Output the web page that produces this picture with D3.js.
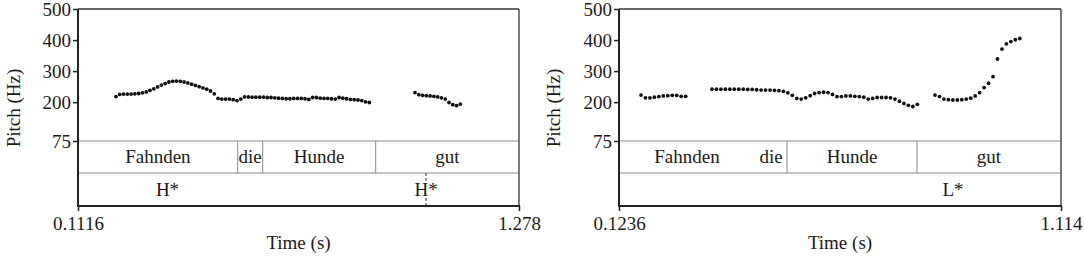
<!DOCTYPE html>
<html><head><meta charset="utf-8">
<script src="https://cdn.jsdelivr.net/npm/d3@7"></script>
<style>
body{margin:0;background:#fff}
svg{display:block}
</style></head><body>
<svg id="c" width="1084" height="258"></svg>
<script>
// ---------- shared ----------
const pitchTicks = [75, 200, 300, 400, 500];
const pitchDomain = [75, 500];
const frameStep = 0.01; // s between pitch frames

// ---------- left panel ----------
const timeDomainL = [0.1116, 1.278];
const timeTickLabelsL = ["0.1116", "1.278"];
const f0StartsL = [0.2121, 1.0029];
const f0SegL1 = [218,225,226,226,226,227,228,230,233,238,243,249,255,260,265,267,
  268,267,265,262,258,254,250,246,242,236,227,212,210,210,210,208,205,210,217,
  217,216,216,216,216,215,215,214,213,212,211,211,212,212,212,211,209,215,215,
  213,212,212,211,210,215,213,211,209,208,207,205,201,199,204].slice(0, 68);
const f0SegL2 = [231,224,222,221,220,219,217,214,210,199,192,189,194];
const wordsL = ["Fahnden", "die", "Hunde", "gut"];
const wordEdgesL = [0.1116, 0.5340, 0.6001, 0.8990, 1.278];
const hiddenEdgesL = [];
const tonesL = ["H*", "H*"];
const toneTimesL = [0.3483, 1.0321];
const toneMarksL = [false, true];

// ---------- right panel ----------
const timeDomainR = [0.1236, 1.114];
const timeTickLabelsR = ["0.1236", "1.114"];
const f0StartsR = [0.1729, 0.3320, 0.8317];
const f0SegR1 = [223,214,214,216,218,220,221,222,222,219,219];
const f0SegR2 = [242,242,242,242,242,242,242,242,241,241,240,239,239,239,238,237,
  235,230,222,212,210,214,221,228,231,232,231,225,218,218,220,220,219,218,216,
  210,212,215,215,215,214,210,203,196,190,186,193];
const f0SegR3 = [223,218,210,208,207,207,208,210,213,220,231,247,261,282,339,371,
  388,395,401,405];
const wordsR = ["Fahnden", "die", "Hunde", "gut"];
const wordEdgesR = [0.1236, 0.4284, 0.5001, 0.7914, 1.114];
const hiddenEdgesR = [0];
const tonesR = ["L*"];
const toneTimesR = [0.8721];
const toneMarksR = [false];

const FONT = '"Liberation Serif", "Times New Roman", serif';

const panels = [
  {x0: 78, x1: 519, time: timeDomainL, tickLabels: timeTickLabelsL,
   segs: [f0SegL1, f0SegL2], starts: f0StartsL,
   words: wordsL, edges: wordEdgesL, hidden: hiddenEdgesL,
   tones: tonesL, toneTimes: toneTimesL, toneMarks: toneMarksL, titleX: 13},
  {x0: 619, x1: 1061, time: timeDomainR, tickLabels: timeTickLabelsR,
   segs: [f0SegR1, f0SegR2, f0SegR3], starts: f0StartsR,
   words: wordsR, edges: wordEdgesR, hidden: hiddenEdgesR,
   tones: tonesR, toneTimes: toneTimesR, toneMarks: toneMarksR, titleX: 553}
];

const svg = d3.select("#c");
svg.append("rect").attr("width", 1084).attr("height", 258).attr("fill", "#fff");

const yTop = 9, yPitchBottom = 141, yTier1 = 173, yBottom = 206;
const y = d3.scaleLinear().domain(pitchDomain).range([yPitchBottom, yTop]);

function styleText(sel) {
  return sel.style("font-family", FONT).style("font-size", "19px").style("fill", "#1a1a1a");
}

panels.forEach(p => {
  const x = d3.scaleLinear().domain(p.time).range([p.x0, p.x1]);
  const g = svg.append("g");

  // tier separators
  [yPitchBottom, yTier1].forEach(yy => {
    g.append("line").attr("x1", p.x0).attr("x2", p.x1).attr("y1", yy).attr("y2", yy)
      .attr("stroke", "#8a8a8a").attr("stroke-width", 1);
  });
  // word boundaries
  p.edges.slice(1, -1).forEach((t, i) => {
    if (p.hidden.includes(i)) return;
    g.append("line").attr("x1", x(t)).attr("x2", x(t))
      .attr("y1", yPitchBottom).attr("y2", yTier1)
      .attr("stroke", "#8a8a8a").attr("stroke-width", 1);
  });
  // word labels
  p.words.forEach((w, i) => {
    styleText(g.append("text").attr("x", x((p.edges[i] + p.edges[i + 1]) / 2))
      .attr("y", 163).attr("text-anchor", "middle")).text(w);
  });
  // tones
  p.tones.forEach((tn, i) => {
    const xx = x(p.toneTimes[i]);
    if (p.toneMarks[i]) {
      g.append("line").attr("x1", xx).attr("x2", xx).attr("y1", yTier1).attr("y2", 182)
        .attr("stroke", "#333").attr("stroke-dasharray", "3,2");
      g.append("line").attr("x1", xx).attr("x2", xx).attr("y1", 198).attr("y2", yBottom)
        .attr("stroke", "#333").attr("stroke-dasharray", "3,2");
    }
    styleText(g.append("text").attr("x", xx).attr("y", 196).attr("text-anchor", "middle")).text(tn);
  });

  // frame: top and right
  g.append("line").attr("x1", p.x0).attr("x2", p.x1).attr("y1", yTop).attr("y2", yTop)
    .attr("stroke", "#333").attr("stroke-width", 1.3);
  g.append("line").attr("x1", p.x1).attr("x2", p.x1).attr("y1", yTop).attr("y2", yBottom)
    .attr("stroke", "#333").attr("stroke-width", 1.3);

  // y axis
  const ya = g.append("g").attr("transform", `translate(${p.x0},0)`)
    .call(d3.axisLeft(y).tickValues(pitchTicks).tickSize(5).tickPadding(2).tickFormat(d3.format("d")));
  ya.select(".domain").remove();
  ya.selectAll(".tick line").attr("stroke", "#222").attr("stroke-width", 1.5);
  styleText(ya.selectAll(".tick text"));
  g.append("line").attr("x1", p.x0).attr("x2", p.x0).attr("y1", yTop).attr("y2", yBottom)
    .attr("stroke", "#222").attr("stroke-width", 2);

  // x axis
  const xa = g.append("g").attr("transform", `translate(0,${yBottom})`)
    .call(d3.axisBottom(x).tickValues(p.time).tickSize(5).tickPadding(6)
      .tickFormat((d, i) => p.tickLabels[i]));
  xa.select(".domain").remove();
  xa.selectAll(".tick line").attr("stroke", "#222").attr("stroke-width", 1.5);
  styleText(xa.selectAll(".tick text"));
  g.append("line").attr("x1", p.x0 - 1).attr("x2", p.x1 + 1).attr("y1", yBottom).attr("y2", yBottom)
    .attr("stroke", "#222").attr("stroke-width", 2);

  // titles
  styleText(g.append("text").attr("x", (p.x0 + p.x1) / 2).attr("y", 249)
    .attr("text-anchor", "middle")).text("Time (s)");
  styleText(g.append("text")
    .attr("transform", `translate(${p.titleX},${(yTop + yPitchBottom) / 2 + 33}) rotate(-90)`)
    .attr("text-anchor", "middle").attr("dominant-baseline", "central")).text("Pitch (Hz)");

  // pitch dots
  p.segs.forEach((seg, si) => {
    g.append("g").selectAll("circle").data(seg).join("circle")
      .attr("cx", (d, i) => x(p.starts[si] + i * frameStep))
      .attr("cy", d => y(d))
      .attr("r", 1.9).attr("fill", "#111");
  });
});
</script>
</body></html>
